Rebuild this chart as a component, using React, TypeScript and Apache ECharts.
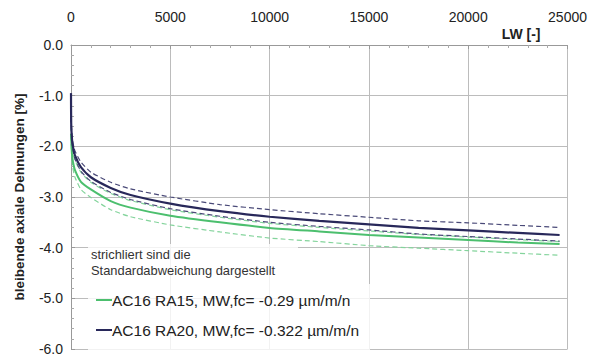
import React, { useEffect, useRef } from "react";
import * as echarts from "echarts";

const lwValues = [0, 10, 50, 100, 200, 500, 1000, 2000, 3000, 5000, 7500, 10000, 12500, 15000, 17500, 20000, 22500, 24600];
const ra20Mean = [-0.95, -1.55, -1.86, -2.01, -2.18, -2.41, -2.61, -2.82, -2.96, -3.13, -3.28, -3.39, -3.47, -3.54, -3.61, -3.66, -3.71, -3.75];
const ra20Upper = [-0.95, -1.49, -1.79, -1.93, -2.09, -2.31, -2.51, -2.71, -2.84, -3.0, -3.15, -3.25, -3.33, -3.4, -3.47, -3.51, -3.56, -3.6];
const ra20Lower = [-0.95, -1.6, -1.92, -2.07, -2.25, -2.49, -2.69, -2.91, -3.05, -3.23, -3.38, -3.5, -3.58, -3.65, -3.73, -3.78, -3.83, -3.87];
const ra15Mean = [-1.75, -1.85, -2.16, -2.31, -2.47, -2.7, -2.85, -3.08, -3.21, -3.37, -3.5, -3.61, -3.68, -3.75, -3.8, -3.85, -3.9, -3.93];
const ra15Upper = [-1.7, -1.62, -1.94, -2.1, -2.27, -2.51, -2.71, -2.93, -3.07, -3.25, -3.4, -3.52, -3.6, -3.67, -3.74, -3.79, -3.84, -3.88];
const ra15Lower = [-1.8, -1.95, -2.28, -2.44, -2.61, -2.85, -3.01, -3.25, -3.39, -3.55, -3.69, -3.81, -3.88, -3.96, -4.01, -4.06, -4.11, -4.15];

const seriesNames = ["AC16 RA15, MW,fc= -0.29 µm/m/n", "AC16 RA20, MW,fc= -0.322 µm/m/n"];
const noteLines = ["strichliert sind die", "Standardabweichung dargestellt"];
const xAxisName = "LW [-]";
const yAxisName = "bleibende axiale Dehnungen [%]";

const GREEN = "#4cbf6e";
const GREEN_DASH = "#84d49c";
const NAVY = "#28285a";
const NAVY_DASH = "#4a4a78";
const FONT = "Liberation Sans, Arial, sans-serif";

const pairs = (ys: number[]) => lwValues.map((x, i) => [x, ys[i]]);

export default function App() {
  const ref = useRef<HTMLDivElement>(null);
  useEffect(() => {
    if (!ref.current) return;
    const chart = echarts.init(ref.current, null, { renderer: "svg" });
    const line = (name: string, ys: number[], color: string, width: number, dashed: boolean, z: number) => ({
      name,
      type: "line",
      data: pairs(ys),
      showSymbol: false,
      smooth: 0.2,
      z,
      lineStyle: { color, width, type: dashed ? [5, 3] : "solid" },
    });
    chart.setOption({
      animation: false,
      backgroundColor: "#ffffff",
      grid: { left: 71, right: 22, top: 45, bottom: 5 },
      xAxis: {
        type: "value",
        position: "top",
        min: 0,
        max: 25000,
        interval: 5000,
        name: xAxisName,
        nameLocation: "end",
        nameGap: 0,
        nameTextStyle: {
          fontFamily: FONT,
          fontWeight: "bold",
          fontSize: 14,
          color: "#222",
          align: "right",
          verticalAlign: "bottom",
          padding: [0, 27, 4, 0],
        },
        axisLine: { show: true, lineStyle: { color: "#999", width: 1 } },
        axisTick: { show: true, inside: true, length: 4, lineStyle: { color: "#999" } },
        minorTick: { show: true, splitNumber: 5, length: 3, lineStyle: { color: "#aaa" } },
        axisLabel: { fontFamily: FONT, fontSize: 14, color: "#222", margin: 21, formatter: (v: number) => String(v) },
        splitLine: { show: true, lineStyle: { color: "#bcbcbc", width: 1 } },
      },
      yAxis: {
        type: "value",
        min: -6,
        max: 0,
        interval: 1,
        name: yAxisName,
        nameLocation: "middle",
        nameGap: 45,
        nameTextStyle: { fontFamily: FONT, fontWeight: "bold", fontSize: 13.5, color: "#222" },
        axisLine: { show: true, lineStyle: { color: "#999", width: 1 } },
        axisTick: { show: true, inside: true, length: 4, lineStyle: { color: "#999" } },
        minorTick: { show: true, splitNumber: 5, length: 3, lineStyle: { color: "#aaa" } },
        axisLabel: {
          fontFamily: FONT,
          fontSize: 14,
          color: "#222",
          margin: 8,
          formatter: (v: number) => v.toFixed(1),
        },
        splitLine: { show: true, lineStyle: { color: "#bcbcbc", width: 1 } },
      },
      series: [
        line("RA15 lower", ra15Lower, GREEN_DASH, 1.2, true, 2),
        line("RA15 upper", ra15Upper, GREEN_DASH, 1.2, true, 2),
        line(seriesNames[0], ra15Mean, GREEN, 2, false, 3),
        line("RA20 upper", ra20Upper, NAVY_DASH, 1.2, true, 4),
        line("RA20 lower", ra20Lower, NAVY_DASH, 1.2, true, 4),
        line(seriesNames[1], ra20Mean, NAVY, 2.2, false, 5),
      ],
      graphic: [
        { type: "rect", z: 10, shape: { x: 88, y: 244, width: 210, height: 40 }, style: { fill: "rgba(255,255,255,0.8)" } },
        { type: "rect", z: 10, shape: { x: 88, y: 284, width: 282, height: 66 }, style: { fill: "rgba(255,255,255,0.8)" } },
        { type: "text", z: 11, x: 91, y: 254, style: { text: noteLines[0], fontFamily: FONT, fontSize: 12.9, fill: "#333", verticalAlign: "middle" } },
        { type: "text", z: 11, x: 91, y: 270, style: { text: noteLines[1], fontFamily: FONT, fontSize: 12.9, fill: "#333", verticalAlign: "middle" } },
        { type: "line", z: 11, shape: { x1: 96, y1: 300, x2: 112, y2: 300 }, style: { stroke: GREEN, lineWidth: 2 } },
        { type: "text", z: 11, x: 112, y: 300, style: { text: seriesNames[0], fontFamily: FONT, fontSize: 15.5, fill: "#222", verticalAlign: "middle" } },
        { type: "line", z: 11, shape: { x1: 96, y1: 330, x2: 112, y2: 330 }, style: { stroke: NAVY, lineWidth: 2 } },
        { type: "text", z: 11, x: 112, y: 330, style: { text: seriesNames[1], fontFamily: FONT, fontSize: 15.5, fill: "#222", verticalAlign: "middle" } },
      ],
    });
    return () => chart.dispose();
  }, []);
  return <div ref={ref} style={{ width: 590, height: 356, position: "absolute", left: 0, top: 0 }} />;
}
